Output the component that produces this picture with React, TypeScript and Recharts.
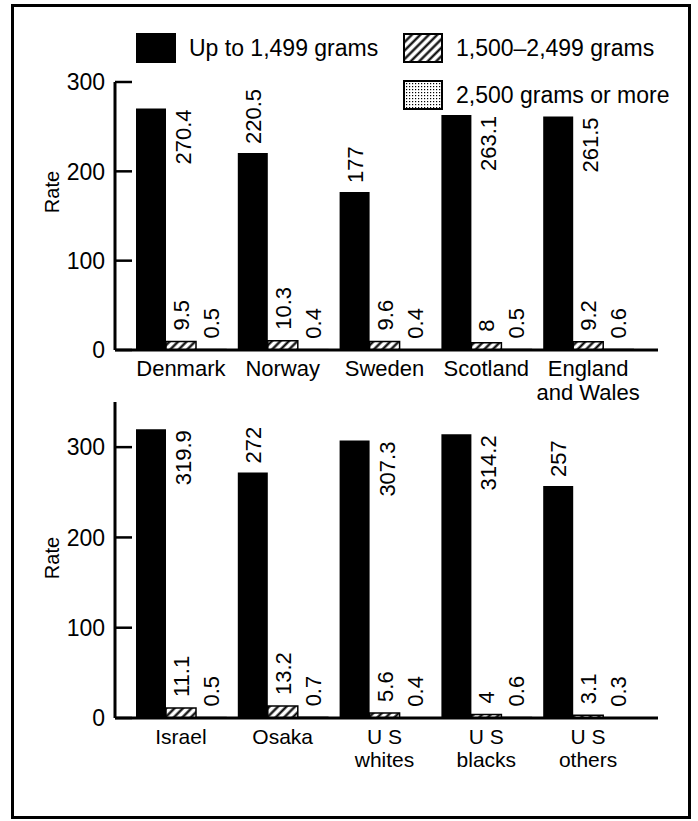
import React from 'react';
import { BarChart, Bar, XAxis, YAxis, Legend, LabelList } from 'recharts';

// Neonatal mortality rate by birth weight (per 1,000 live births)
const topCountries = ['Denmark', 'Norway', 'Sweden', 'Scotland', 'England\nand Wales'];
const topUpTo1499 = [270.4, 220.5, 177, 263.1, 261.5];
const top1500to2499 = [9.5, 10.3, 9.6, 8, 9.2];
const top2500plus = [0.5, 0.4, 0.4, 0.5, 0.6];

const bottomPlaces = ['Israel', 'Osaka', 'U S\nwhites', 'U S\nblacks', 'U S\nothers'];
const bottomUpTo1499 = [319.9, 272, 307.3, 314.2, 257];
const bottom1500to2499 = [11.1, 13.2, 5.6, 4, 3.1];
const bottom2500plus = [0.5, 0.7, 0.4, 0.6, 0.3];

const seriesNames = ['Up to 1,499 grams', '1,500\u20132,499 grams', '2,500 grams or more'];
const rateTicks = [0, 100, 200, 300];

const FONT = '"Liberation Sans", Arial, Helvetica, sans-serif';

const buildRows = (cats: string[], low: number[], mid: number[], high: number[]) =>
  cats.map((name, i) => ({ name, low: low[i], mid: mid[i], high: high[i] }));

const topData = buildRows(topCountries, topUpTo1499, top1500to2499, top2500plus);
const bottomData = buildRows(bottomPlaces, bottomUpTo1499, bottom1500to2499, bottom2500plus);

const textLength = (s: string, size: number) =>
  s.split('').reduce((w, ch) => w + (ch === '.' ? 0.278 : 0.556), 0) * size;

// rotated value label; tall bars get it beside the bar instead of above
const ValueLabel = (props: any) => {
  const { value, kind, plotTop } = props;
  const vb = props.viewBox || props;
  const { x, y, width } = vb;
  const text = String(value);
  const size = 22;
  let cx = x + width / 2;
  let cy = y - (kind === 'low' ? 9 : 11);
  let anchor = 'start';
  if (kind === 'low' && cy - textLength(text, size) < plotTop) {
    cx = x + width * 1.5 + 2;
    cy = y + 1;
    anchor = 'end';
  }
  return (
    <text
      x={cx}
      y={cy}
      transform={`rotate(-90 ${cx} ${cy})`}
      textAnchor={anchor}
      dy="0.36em"
      fontSize={size}
      fontFamily={FONT}
      fill="#000"
    >
      {text}
    </text>
  );
};

const CategoryTick = (props: any) => {
  const { x, y, payload, size, gap } = props;
  const lines = String(payload.value).split('\n');
  return (
    <text x={x} y={y + gap} textAnchor="middle" fontSize={size} fontFamily={FONT} fill="#000">
      {lines.map((l, i) => (
        <tspan key={i} x={x} dy={i === 0 ? '0.72em' : '1.1em'}>
          {l}
        </tspan>
      ))}
    </text>
  );
};

const RateTick = (props: any) => {
  const { x, y, payload } = props;
  return (
    <g>
      <line x1={x + 10} x2={x + 27} y1={y} y2={y} stroke="#000" strokeWidth={2.5} />
      <text x={x} y={y} dy="0.36em" textAnchor="end" fontSize={23} fontFamily={FONT} fill="#000">
        {payload.value}
      </text>
    </g>
  );
};

const RateLabel = (props: any) => {
  const { viewBox, shift } = props;
  const cx = viewBox.x - 3;
  const cy = viewBox.y + viewBox.height / 2 + shift;
  return (
    <text
      x={cx}
      y={cy}
      transform={`rotate(-90 ${cx} ${cy})`}
      textAnchor="middle"
      dy="0.36em"
      fontSize={20}
      fontFamily={FONT}
      fill="#000"
    >
      Rate
    </text>
  );
};

const LegendBox = (props: any) => {
  const items = [...(props.payload || [])].sort(
    (a: any, b: any) => seriesNames.indexOf(a.value) - seriesNames.indexOf(b.value)
  );
  return (
    <div style={{ position: 'relative', width: 698, height: 120 }}>
      {items.map((entry: any, i: number) => {
        const left = i === 0 ? 136 : 403;
        const top = i === 2 ? 80 : 33;
        return (
          <div
            key={entry.value}
            style={{ position: 'absolute', left, top, display: 'flex', alignItems: 'center', whiteSpace: 'nowrap' }}
          >
            <svg width={40} height={30} style={{ display: 'block' }}>
              <rect x={1} y={1} width={38} height={28} fill={entry.color} stroke="#000" strokeWidth={2} />
            </svg>
            <span style={{ marginLeft: 13, fontSize: 23, fontFamily: FONT, lineHeight: '30px', color: '#000' }}>
              {entry.value}
            </span>
          </div>
        );
      })}
    </div>
  );
};

const Panel = ({ data, domain, top, height, margin, xAxisHeight, catSize, catGap, rateShift, showLegend }: any) => (
  <div style={{ position: 'absolute', left: 0, top }}>
    <BarChart width={698} height={height} data={data} margin={margin} barGap={0} barSize={30}>
      <XAxis
        dataKey="name"
        axisLine={{ stroke: '#000', strokeWidth: 3 }}
        tickLine={false}
        tickSize={0}
        tickMargin={0}
        height={xAxisHeight}
        padding={{ left: 15, right: 19 }}
        interval={0}
        tick={<CategoryTick size={catSize} gap={catGap} />}
      />
      <YAxis
        domain={domain}
        ticks={rateTicks}
        width={60}
        interval={0}
        axisLine={{ stroke: '#000', strokeWidth: 3 }}
        tickLine={false}
        tickSize={0}
        tickMargin={10}
        tick={<RateTick />}
        label={<RateLabel shift={rateShift} />}
      />
      {showLegend && (
        <Legend
          layout="horizontal"
          verticalAlign="middle"
          align="center"
          wrapperStyle={{ left: 0, top: 0, width: 698, height: 120 }}
          content={<LegendBox />}
        />
      )}
      <Bar dataKey="low" name={seriesNames[0]} fill="#000" isAnimationActive={false}>
        <LabelList dataKey="low" content={(p: any) => <ValueLabel {...p} kind="low" plotTop={margin.top} />} />
      </Bar>
      <Bar dataKey="mid" name={seriesNames[1]} fill="url(#hatch)" stroke="#000" strokeWidth={1.5} isAnimationActive={false}>
        <LabelList dataKey="mid" content={(p: any) => <ValueLabel {...p} kind="mid" plotTop={margin.top} />} />
      </Bar>
      <Bar dataKey="high" name={seriesNames[2]} fill="url(#dots)" stroke="#000" strokeWidth={1.5} isAnimationActive={false}>
        <LabelList dataKey="high" content={(p: any) => <ValueLabel {...p} kind="high" plotTop={margin.top} />} />
      </Bar>
    </BarChart>
  </div>
);

export default function App() {
  return (
    <div style={{ position: 'absolute', left: 0, top: 0, width: 698, height: 821, background: '#fff', fontFamily: FONT }}>
      <svg width={0} height={0} style={{ position: 'absolute' }}>
        <defs>
          <pattern id="hatch" patternUnits="userSpaceOnUse" width={6} height={6} patternTransform="rotate(45)">
            <rect width={6} height={6} fill="#fff" />
            <line x1={1.5} y1={0} x2={1.5} y2={6} stroke="#000" strokeWidth={2.2} />
          </pattern>
          <pattern id="dots" patternUnits="userSpaceOnUse" width={3} height={3}>
            <rect width={3} height={3} fill="#fff" />
            <rect width={1.2} height={1.2} fill="#000" />
          </pattern>
        </defs>
      </svg>
      <div
        style={{
          position: 'absolute',
          left: 11,
          top: 4,
          width: 680,
          height: 815,
          border: '3px solid #000',
          boxSizing: 'border-box',
        }}
      />
      <Panel
        data={topData}
        domain={[0, 300]}
        top={0}
        height={420}
        margin={{ top: 82, right: 40, left: 55, bottom: 30 }}
        xAxisHeight={40}
        catSize={22}
        catGap={10}
        rateShift={-24}
        showLegend
      />
      <Panel
        data={bottomData}
        domain={[0, 350]}
        top={380}
        height={440}
        margin={{ top: 22, right: 40, left: 55, bottom: 52 }}
        xAxisHeight={50}
        catSize={21}
        catGap={11}
        rateShift={-2}
        showLegend={false}
      />
    </div>
  );
}
